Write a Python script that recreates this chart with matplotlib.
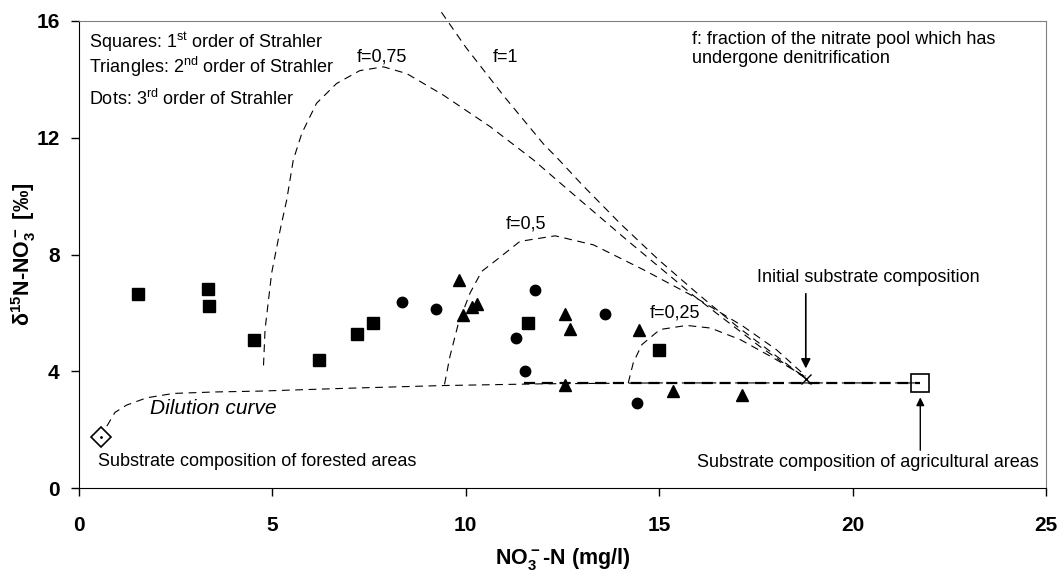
import matplotlib
matplotlib.use("Agg")
import matplotlib.pyplot as plt

plt.rcParams['font.family'] = ['Liberation Sans', 'DejaVu Sans']
plt.rcParams['mathtext.default'] = 'regular'

# --- Dados ---
# Quadrados: 1a ordem de Strahler
sq_x = [1.53, 3.34, 3.37, 4.52, 6.20, 7.20, 7.59, 11.62, 14.99]
sq_y = [6.65, 6.83, 6.24, 5.07, 4.40, 5.28, 5.66, 5.65, 4.72]

# Triângulos: 2a ordem
tri_x = [9.82, 9.92, 10.15, 10.30, 12.56, 12.69, 12.56, 14.49, 15.36, 17.14]
tri_y = [7.11, 5.94, 6.20, 6.29, 5.97, 5.45, 3.52, 5.42, 3.34, 3.18]

# Pontos: 3a ordem
dot_x = [8.34, 9.23, 11.29, 11.54, 11.79, 13.60, 14.43]
dot_y = [6.36, 6.13, 5.14, 4.02, 6.79, 5.97, 2.92]

# Composições de referência
forest_x, forest_y = 0.56, 1.76
agri_x, agri_y = 21.75, 3.60
init_x, init_y = 18.79, 3.75

# Curva de diluição
dil_x = [0.72, 0.93, 1.23, 1.75, 2.44, 3.50, 4.68, 7.00, 9.41, 12.0, 15.0, 18.79, 21.75]
dil_y = [2.12, 2.59, 2.84, 3.09, 3.24, 3.29, 3.32, 3.42, 3.51, 3.57, 3.60, 3.60, 3.60]
mix_x = [11.5, 21.75]
mix_y = [3.60, 3.60]

# Curvas de desnitrificação (f)
f1_x = [9.37, 10.0, 11.0, 12.0, 12.44, 13.0, 14.0, 15.0, 16.0, 17.0, 18.0, 18.79]
f1_y = [16.3, 15.1, 13.4, 11.8, 11.2, 10.4, 9.05, 7.80, 6.65, 5.55, 4.55, 3.75]

f075_x = [4.77, 4.81, 4.98, 5.20, 5.37, 5.54, 5.76, 6.14, 6.66, 7.26, 7.87, 8.47,
          9.42, 10.63, 11.75, 12.44, 12.95, 14.16, 15.88, 17.60, 18.79]
f075_y = [4.20, 5.43, 7.36, 8.84, 9.87, 11.24, 12.15, 13.18, 13.86, 14.30, 14.43, 14.20,
          13.46, 12.38, 11.24, 10.45, 9.87, 8.50, 6.60, 4.85, 3.75]

f05_x = [9.45, 9.59, 9.81, 10.11, 10.41, 10.80, 11.40, 12.31, 13.30, 14.59, 15.88, 17.17, 18.03, 18.79]
f05_y = [3.55, 4.51, 5.65, 6.68, 7.42, 7.82, 8.45, 8.64, 8.33, 7.48, 6.57, 5.54, 4.74, 3.83]

f025_x = [14.20, 14.33, 14.55, 15.02, 15.71, 16.33, 17.10, 17.88, 18.79]
f025_y = [3.60, 4.29, 4.91, 5.43, 5.57, 5.48, 5.08, 4.51, 3.80]

x_ticks = [0, 5, 10, 15, 20, 25]
y_ticks = [0, 4, 8, 12, 16]


fig = plt.figure(figsize=(10.64, 5.8), dpi=100)
ax = fig.add_axes([79 / 1064, 92 / 580, 967 / 1064, 467 / 580])

thin = dict(color='black', lw=0.8, ls=(0, (7, 5)))

# curvas f
ax.plot(f1_x, f1_y, clip_on=False, **thin)
ax.plot(f075_x, f075_y, **thin)
ax.plot(f05_x, f05_y, **thin)
ax.plot(f025_x, f025_y, **thin)

# diluição
ax.plot(dil_x, dil_y, **thin)
ax.plot(mix_x, mix_y, color='black', lw=1.6, ls=(0, (5, 3)))

# pontos de amostragem
ax.plot(sq_x, sq_y, 's', color='black', ms=8.5, ls='none')
ax.plot(tri_x, tri_y, '^', color='black', ms=8.5, ls='none')
ax.plot(dot_x, dot_y, 'o', color='black', ms=7.5, ls='none')

# composições de referência
ax.plot(forest_x, forest_y, 'D', mfc='white', mec='black', mew=1.2, ms=10)
ax.plot(forest_x, forest_y, '.', color='black', ms=2)
ax.plot(agri_x, agri_y, 's', mfc='none', mec='black', mew=1.2, ms=13)
ax.plot(init_x, init_y, 'x', color='black', mew=1.0, ms=7)

# textos
fs = 13
ax.text(0.26, 15.27, 'Squares: 1$^{st}$ order of Strahler', fontsize=fs, va='center')
ax.text(0.26, 14.42, 'Triangles: 2$^{nd}$ order of Strahler', fontsize=fs, va='center')
ax.text(0.26, 13.32, 'Dots: 3$^{rd}$ order of Strahler', fontsize=fs, va='center')
ax.text(15.84, 15.05, 'f: fraction of the nitrate pool which has\nundergone denitrification',
        fontsize=fs, va='center', linespacing=1.15)

ax.text(7.19, 14.76, 'f=0,75', fontsize=fs, va='center')
ax.text(10.69, 14.76, 'f=1', fontsize=fs, va='center')
ax.text(11.04, 9.05, 'f=0,5', fontsize=fs, va='center')
ax.text(14.76, 6.0, 'f=0,25', fontsize=fs, va='center')

ax.text(1.84, 2.73, 'Dilution curve', fontsize=15, style='italic', va='center')
ax.text(0.49, 0.91, 'Substrate composition of forested areas', fontsize=fs, va='center')
ax.text(24.8, 0.89, 'Substrate composition of agricultural areas', fontsize=fs, va='center', ha='right')

ax.text(17.53, 7.2, 'Initial substrate composition', fontsize=fs, va='center')
ax.annotate('', xy=(init_x, 4.0), xytext=(init_x, 6.75),
            arrowprops=dict(arrowstyle='-|>', color='black', lw=1.2, mutation_scale=14))
ax.annotate('', xy=(agri_x, 3.2), xytext=(agri_x, 1.2),
            arrowprops=dict(arrowstyle='-|>', color='black', lw=1.0, mutation_scale=12))

# eixos
ax.set_xlim(0, 25)
ax.set_ylim(0, 16)
ax.set_xticks(x_ticks)
ax.set_yticks(y_ticks)
ax.tick_params(direction='out', length=6, width=1, labelsize=15)
ax.tick_params(axis='x', pad=14)
ax.tick_params(axis='y', pad=8)
for lab in ax.get_xticklabels() + ax.get_yticklabels():
    lab.set_fontweight('bold')
ax.spines['top'].set_color('#808080')
ax.spines['right'].set_color('#808080')

ax.set_xlabel('NO$_3^-$-N (mg/l)', fontsize=15.5, fontweight='bold')
ax.set_ylabel('δ$^{15}$N-NO$_3^-$ [‰]', fontsize=15.5, fontweight='bold')
ax.xaxis.set_label_coords(0.5, -0.125)
ax.yaxis.set_label_coords(-0.042, 0.5)

fig.savefig('out.png', dpi=100)
